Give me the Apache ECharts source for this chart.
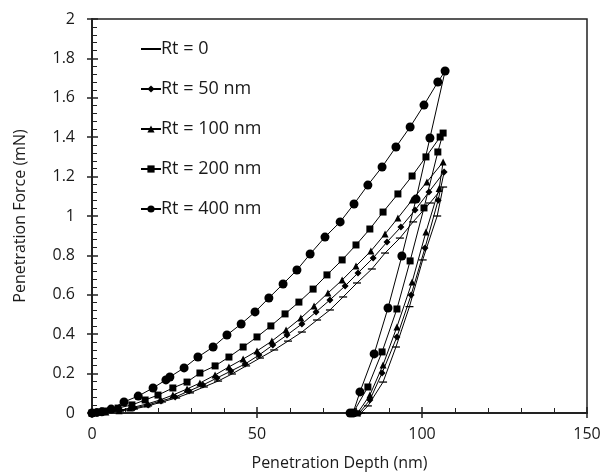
<!DOCTYPE html>
<html>
<head>
<meta charset="utf-8">
<script src="https://cdn.jsdelivr.net/npm/echarts@6/dist/echarts.min.js"></script>
<style>
html, body { margin: 0; padding: 0; background: #fff; }
#chart { width: 603px; height: 473px; }
</style>
</head>
<body>
<div id="chart"></div>
<script>
// penetration depth (nm) / force (mN), loading then unloading
var rt0 = [[0, 0], [4.2, 0.005], [8.5, 0.01], [12.7, 0.02], [17, 0.036], [21.2, 0.056], [25.5, 0.076],
	[29.7, 0.102], [33.9, 0.132], [38.2, 0.162], [42.4, 0.198], [46.7, 0.239], [50.9, 0.279],
	[55.2, 0.32], [59.4, 0.365], [63.6, 0.411], [68.2, 0.472], [72.1, 0.523], [76.1, 0.589],
	[80.3, 0.66], [84.8, 0.731], [88.8, 0.812], [93.3, 0.888], [97.3, 0.97], [102.4, 1.066],
	[106.4, 1.147],
	[104.6, 1.0], [100.2, 0.777], [96.2, 0.54], [92.1, 0.335], [88.2, 0.157], [83.6, 0.036], [81.5, 0]];
var rt50 = [[0, 0], [4.2, 0.005], [8.5, 0.015], [12.7, 0.025], [17, 0.041], [20.9, 0.061], [25.2, 0.081],
	[29.4, 0.112], [33.6, 0.142], [37.9, 0.178], [42.1, 0.213], [46.4, 0.249], [50.6, 0.294],
	[54.8, 0.345], [59.1, 0.396], [63.6, 0.452], [67.9, 0.513], [72.1, 0.574], [76.7, 0.645],
	[80.6, 0.711], [85.2, 0.787], [89.4, 0.868], [93.6, 0.944], [97.9, 1.03], [102.1, 1.122],
	[106.7, 1.223],
	[104.9, 1.08], [100.9, 0.838], [96.7, 0.599], [92.4, 0.386], [87.9, 0.203], [84.2, 0.066], [81, 0]];
var rt100 = [[0, 0], [4.2, 0.005], [8.2, 0.012], [11.5, 0.025], [16.7, 0.046], [20.6, 0.066], [24.5, 0.091],
	[28.8, 0.122], [32.7, 0.152], [37.3, 0.193], [41.5, 0.234], [45.8, 0.274], [50, 0.315],
	[54.5, 0.365], [58.8, 0.421], [63.3, 0.482], [67.3, 0.543], [71.5, 0.609], [75.8, 0.675],
	[80, 0.746], [84.5, 0.822], [88.8, 0.909], [92.7, 0.99], [97, 1.081], [101.5, 1.173],
	[106.4, 1.274],
	[105.2, 1.14], [101.2, 0.919], [97, 0.665], [92.4, 0.437], [88.2, 0.244], [84.2, 0.091], [80.5, 0]];
var rt200 = [[0, 0], [3.6, 0.01], [7.9, 0.025], [12.1, 0.041], [16.1, 0.066], [20, 0.091], [24.5, 0.127],
	[28.8, 0.157], [32.7, 0.203], [37.3, 0.239], [41.5, 0.284], [45.8, 0.335], [50, 0.386],
	[54.2, 0.442], [58.5, 0.503], [62.7, 0.563], [67, 0.629], [71.2, 0.701], [75.8, 0.777],
	[80, 0.853], [84.2, 0.934], [88.2, 1.02], [92.7, 1.112], [97, 1.203], [101.2, 1.3],
	[105.5, 1.401], [106.4, 1.421],
	[104.8, 1.325], [100.6, 1.041], [96.4, 0.772], [92.4, 0.528], [87.9, 0.31], [83.6, 0.132], [79.1, 0]];
var rt400 = [[0, 0], [1.5, 0.003], [3, 0.006], [5.8, 0.02], [9.7, 0.056], [14, 0.086], [18.5, 0.127],
	[22.4, 0.168], [23.6, 0.183], [27.9, 0.229], [32.1, 0.284], [36.7, 0.335], [40.9, 0.396],
	[45.2, 0.452], [49.4, 0.513], [53.6, 0.584], [57.9, 0.655], [62.1, 0.726], [66.1, 0.807],
	[70.6, 0.893], [75.2, 0.97], [79.4, 1.061], [83.6, 1.157], [87.9, 1.249], [92.1, 1.35],
	[96.4, 1.452], [100.6, 1.563], [104.8, 1.68], [107, 1.736],
	[102.4, 1.396], [98.2, 1.086], [93.9, 0.797], [89.7, 0.533], [85.5, 0.3], [81.2, 0.107],
	[79.1, 0], [78.2, 0]];

var names = ['Rt = 0', 'Rt = 50 nm', 'Rt = 100 nm', 'Rt = 200 nm', 'Rt = 400 nm'];
var fontFam = '"Open Sans", "Liberation Sans", sans-serif';
// thin horizontal bar inside a square box (so the legend keeps it flat)
var dashSymbol = 'path://M0,0 L0,0 M0,4.2 L10,4.2 L10,5.8 L0,5.8 Z M10,10 L10,10';

function makeSeries(name, data, symbol, size) {
	return {
		name: name,
		type: 'line',
		data: data,
		symbol: symbol,
		symbolSize: size,
		showAllSymbol: true,
		animation: false,
		lineStyle: { color: '#000', width: 1 },
		itemStyle: { color: '#000', borderWidth: 0 }
	};
}

var myChart = echarts.init(document.getElementById('chart'));

var tickText = { color: '#1a1a1a', fontSize: 16, fontFamily: fontFam };
var nameText = { color: '#1a1a1a', fontSize: 16, fontFamily: fontFam };

var option = {
	backgroundColor: '#fff',
	animation: false,
	grid: {
		left: 92,
		right: 16,
		top: 19,
		bottom: 60,
		outerBoundsMode: 'none',
		containLabel: false,
		show: true,
		borderColor: '#222',
		borderWidth: 1.5
	},
	legend: {
		orient: 'vertical',
		left: 135,
		top: 35,
		itemWidth: 20,
		itemHeight: 9,
		itemGap: 22,
		data: names,
		textStyle: { color: '#1a1a1a', fontSize: 18, fontFamily: fontFam, padding: [0, 0, 0, -5] }
	},
	xAxis: [{
		type: 'value',
		min: 0,
		max: 150,
		interval: 50,
		name: 'Penetration Depth (nm)',
		nameLocation: 'middle',
		nameGap: 42,
		nameTextStyle: nameText,
		axisLine: { lineStyle: { color: '#222', width: 2 } },
		axisTick: { show: true, length: 5, lineStyle: { color: '#222', width: 1.5 } },
		splitLine: { show: false },
		axisLabel: Object.assign({ margin: 13 }, tickText)
	}, {
		type: 'value',
		min: 0,
		max: 150,
		interval: 50,
		position: 'bottom',
		axisLine: { show: false },
		axisTick: { show: true, inside: true, length: 6, lineStyle: { color: '#222', width: 1.5 } },
		minorTick: { show: true, splitNumber: 5, length: 5, lineStyle: { color: '#222', width: 1 } },
		splitLine: { show: false },
		axisLabel: { show: false }
	}],
	yAxis: [{
		type: 'value',
		min: 0,
		max: 2,
		interval: 0.2,
		name: 'Penetration Force (mN)',
		nameLocation: 'middle',
		nameGap: 64,
		nameTextStyle: nameText,
		axisLine: { lineStyle: { color: '#222', width: 2 } },
		axisTick: { show: true, length: 5, lineStyle: { color: '#222', width: 1.5 } },
		splitLine: { show: false },
		axisLabel: Object.assign({ margin: 17 }, tickText)
	}, {
		type: 'value',
		min: 0,
		max: 2,
		interval: 0.2,
		position: 'left',
		axisLine: { show: false },
		axisTick: { show: true, inside: true, length: 6, lineStyle: { color: '#222', width: 1.5 } },
		minorTick: { show: true, splitNumber: 5, length: 5, lineStyle: { color: '#222', width: 1 } },
		splitLine: { show: false },
		axisLabel: { show: false }
	}],
	series: [
		makeSeries(names[0], rt0, dashSymbol, 8),
		makeSeries(names[1], rt50, 'diamond', 7),
		makeSeries(names[2], rt100, 'triangle', 7),
		makeSeries(names[3], rt200, 'rect', 7),
		makeSeries(names[4], rt400, 'circle', 9)
	]
};
myChart.setOption(option);
</script>
</body>
</html>
